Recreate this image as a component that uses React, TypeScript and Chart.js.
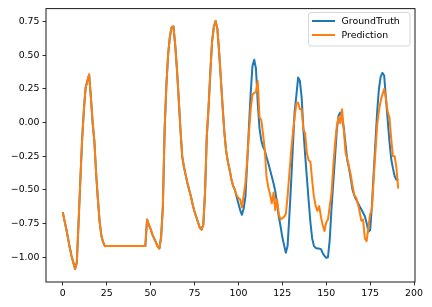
import React, { useEffect, useRef } from "react";
import { Chart, registerables } from "chart.js";

Chart.register(...registerables);

const seriesLabels = ["GroundTruth", "Prediction"];
const seriesColors = ["#1f77b4", "#ff7f0e"];

const groundTruth: number[] = [
  -0.665, -0.73, -0.79, -0.86, -0.93, -0.99, -1.04, -1.088, -1.04, -0.74,
  -0.43, -0.13, 0.09, 0.26, 0.31, 0.358, 0.19, 0.0, -0.14, -0.38,
  -0.57, -0.74, -0.84, -0.89,
  -0.917, -0.917, -0.917, -0.917, -0.917, -0.917, -0.917, -0.917, -0.917, -0.917, -0.917, -0.917,
  -0.917, -0.917, -0.917, -0.917, -0.917, -0.917, -0.917, -0.917, -0.917, -0.917, -0.917, -0.917,
  -0.72, -0.76, -0.79, -0.83, -0.86, -0.89, -0.92, -0.935, -0.85, -0.62,
  -0.05, 0.28, 0.51, 0.64, 0.71, 0.715, 0.58, 0.40, 0.18, -0.05,
  -0.25, -0.33, -0.39, -0.45, -0.50, -0.55, -0.61, -0.66, -0.70, -0.74,
  -0.78, -0.795, -0.76, -0.52, -0.10, 0.11, 0.37, 0.60, 0.71, 0.755,
  0.70, 0.53, 0.33, 0.12, -0.07, -0.21, -0.29, -0.35, -0.42, -0.47,
  -0.50, -0.55, -0.60, -0.65, -0.685, -0.64, -0.55, -0.30, -0.03, 0.22,
  0.42, 0.468, 0.40, 0.15, -0.04, -0.13, -0.18, -0.205, -0.255, -0.30,
  -0.35, -0.40, -0.45, -0.51, -0.60, -0.70, -0.77, -0.85, -0.91, -0.966,
  -0.917, -0.696, -0.451, -0.18, 0.08, 0.20, 0.335, 0.31, 0.19, -0.05,
  -0.24, -0.41, -0.58, -0.74, -0.86, -0.915, -0.93, -0.936, -0.936, -0.94,
  -0.97, -0.99, -1.005, -1.0, -0.87, -0.64, -0.45, -0.26, -0.06, 0.05,
  0.075, 0.04, -0.04, -0.16, -0.28, -0.34, -0.42, -0.50, -0.54, -0.57,
  -0.595, -0.62, -0.645, -0.67, -0.696, -0.745, -0.81, -0.80, -0.62, -0.38,
  -0.15, 0.08, 0.25, 0.34, 0.37, 0.35, 0.18, 0.02, -0.14, -0.27,
  -0.34, -0.40, -0.425, -0.42,
];

const prediction: number[] = [
  -0.665, -0.73, -0.79, -0.86, -0.93, -0.99, -1.04, -1.088, -1.04, -0.74,
  -0.43, -0.13, 0.09, 0.26, 0.31, 0.358, 0.19, 0.0, -0.14, -0.38,
  -0.57, -0.74, -0.84, -0.89,
  -0.917, -0.917, -0.917, -0.917, -0.917, -0.917, -0.917, -0.917, -0.917, -0.917, -0.917, -0.917,
  -0.917, -0.917, -0.917, -0.917, -0.917, -0.917, -0.917, -0.917, -0.917, -0.917, -0.917, -0.917,
  -0.72, -0.76, -0.79, -0.83, -0.86, -0.89, -0.92, -0.935, -0.85, -0.62,
  -0.05, 0.28, 0.51, 0.64, 0.71, 0.715, 0.58, 0.40, 0.18, -0.05,
  -0.25, -0.33, -0.39, -0.45, -0.50, -0.55, -0.61, -0.66, -0.70, -0.74,
  -0.78, -0.795, -0.76, -0.52, -0.10, 0.11, 0.37, 0.60, 0.71, 0.755,
  0.70, 0.53, 0.33, 0.12, -0.07, -0.21, -0.29, -0.35, -0.42, -0.47,
  -0.50, -0.54, -0.56, -0.57, -0.63, -0.54, -0.45, -0.28, -0.08, 0.10,
  0.21, 0.22, 0.23, 0.31,
  0.04, 0.02, -0.08, -0.20, -0.40, -0.48, -0.53, -0.60, -0.52, -0.65,
  -0.57, -0.68, -0.72, -0.71, -0.70, -0.68,
  -0.55, -0.38, -0.22, -0.08, 0.04, 0.14, 0.15, 0.10, 0.10, -0.05,
  -0.08, -0.23, -0.28, -0.29, -0.43, -0.55, -0.62, -0.655, -0.62, -0.70,
  -0.76, -0.805, -0.74, -0.72, -0.62, -0.525, -0.33, -0.16, -0.03,
  0.04, -0.005, 0.10, -0.05, -0.22, -0.27, -0.33, -0.39, -0.47, -0.54,
  -0.555, -0.60, -0.66, -0.73, -0.72, -0.86, -0.88, -0.78, -0.68, -0.65,
  -0.42, -0.22, -0.02, 0.09, 0.16, 0.21, 0.25, 0.18, 0.08, 0.04,
  -0.12, -0.25, -0.25, -0.34, -0.49,
];

const xTickValues = [0, 25, 50, 75, 100, 125, 150, 175, 200];
const yTickValues = [-1.0, -0.75, -0.5, -0.25, 0.0, 0.25, 0.5, 0.75];

const FONT = "'DejaVu Sans', 'Liberation Sans', sans-serif";
const FONT_SIZE = 9.4;

function toPoints(values: number[]) {
  return values.map((v, i) => ({ x: i, y: v }));
}

const framePlugin = {
  id: "frameAndLegend",
  afterDraw(chart: any) {
    const { ctx, chartArea } = chart;
    ctx.save();
    ctx.strokeStyle = "#000";
    ctx.lineWidth = 0.9;
    ctx.strokeRect(chartArea.left, chartArea.top, chartArea.right - chartArea.left, chartArea.bottom - chartArea.top);

    const bx = 308.5, by = 12.5, bw = 101.5, bh = 33.5, r = 2.5;
    ctx.beginPath();
    ctx.moveTo(bx + r, by);
    ctx.lineTo(bx + bw - r, by);
    ctx.quadraticCurveTo(bx + bw, by, bx + bw, by + r);
    ctx.lineTo(bx + bw, by + bh - r);
    ctx.quadraticCurveTo(bx + bw, by + bh, bx + bw - r, by + bh);
    ctx.lineTo(bx + r, by + bh);
    ctx.quadraticCurveTo(bx, by + bh, bx, by + bh - r);
    ctx.lineTo(bx, by + r);
    ctx.quadraticCurveTo(bx, by, bx + r, by);
    ctx.closePath();
    ctx.fillStyle = "rgba(255,255,255,0.8)";
    ctx.fill();
    ctx.strokeStyle = "#d6d6d6";
    ctx.lineWidth = 1;
    ctx.stroke();

    const datasets = chart.data.datasets;
    datasets.forEach((ds: any, i: number) => {
      const y = 21 + i * 14;
      ctx.beginPath();
      ctx.strokeStyle = ds.borderColor;
      ctx.lineWidth = 2;
      ctx.moveTo(312, y);
      ctx.lineTo(335, y);
      ctx.stroke();
      ctx.fillStyle = "#000";
      ctx.font = `${FONT_SIZE}px ${FONT}`;
      ctx.textBaseline = "middle";
      ctx.textAlign = "left";
      ctx.fillText(ds.label, 341.5, y + 0.5);
    });
    ctx.restore();
  },
};

export default function App() {
  const canvasRef = useRef<HTMLCanvasElement | null>(null);

  useEffect(() => {
    if (!canvasRef.current) return;
    const lineStyle = {
      borderWidth: 2,
      pointRadius: 0,
      tension: 0,
      borderJoinStyle: "round" as const,
      borderCapStyle: "butt" as const,
    };
    const chart = new Chart(canvasRef.current, {
      type: "line",
      data: {
        datasets: [
          {
            label: seriesLabels[0],
            data: toPoints(groundTruth),
            borderColor: seriesColors[0],
            backgroundColor: seriesColors[0],
            order: 1,
            ...lineStyle,
          },
          {
            label: seriesLabels[1],
            data: toPoints(prediction),
            borderColor: seriesColors[1],
            backgroundColor: seriesColors[1],
            order: 0,
            ...lineStyle,
          },
        ],
      },
      plugins: [framePlugin],
      options: {
        animation: false,
        responsive: false,
        devicePixelRatio: 1,
        layout: { padding: { left: 0, right: 17, top: 7, bottom: 0 } },
        plugins: {
          legend: { display: false },
          tooltip: { enabled: false },
        },
        scales: {
          x: {
            type: "linear",
            min: -9.55,
            max: 200.55,
            afterBuildTicks: (scale: any) => {
              scale.ticks = xTickValues.map((v) => ({ value: v }));
            },
            afterFit: (scale: any) => {
              scale.height = 25;
            },
            ticks: {
              autoSkip: false,
              maxRotation: 0,
              padding: 2,
              color: "#000",
              font: { family: FONT, size: FONT_SIZE },
              callback: (v: any) => String(v),
            },
            grid: {
              display: true,
              drawOnChartArea: false,
              drawTicks: true,
              tickLength: 3.5,
              tickColor: "#000",
              lineWidth: 0.8,
            },
            border: { display: false },
          },
          y: {
            type: "linear",
            min: -1.184,
            max: 0.847,
            afterBuildTicks: (scale: any) => {
              scale.ticks = yTickValues.map((v) => ({ value: v }));
            },
            afterFit: (scale: any) => {
              scale.width = 46;
            },
            ticks: {
              autoSkip: false,
              padding: 3,
              color: "#000",
              font: { family: FONT, size: FONT_SIZE },
              callback: (v: any) => Number(v).toFixed(2).replace("-", "\u2212"),
            },
            grid: {
              display: true,
              drawOnChartArea: false,
              drawTicks: true,
              tickLength: 3.5,
              tickColor: "#000",
              lineWidth: 0.8,
            },
            border: { display: false },
          },
        },
      },
    });
    return () => chart.destroy();
  }, []);

  return (
    <div style={{ position: "fixed", left: 0, top: 0, width: 432, height: 307, background: "#fff" }}>
      <canvas ref={canvasRef} width={432} height={307} style={{ display: "block", width: 432, height: 307 }} />
    </div>
  );
}
